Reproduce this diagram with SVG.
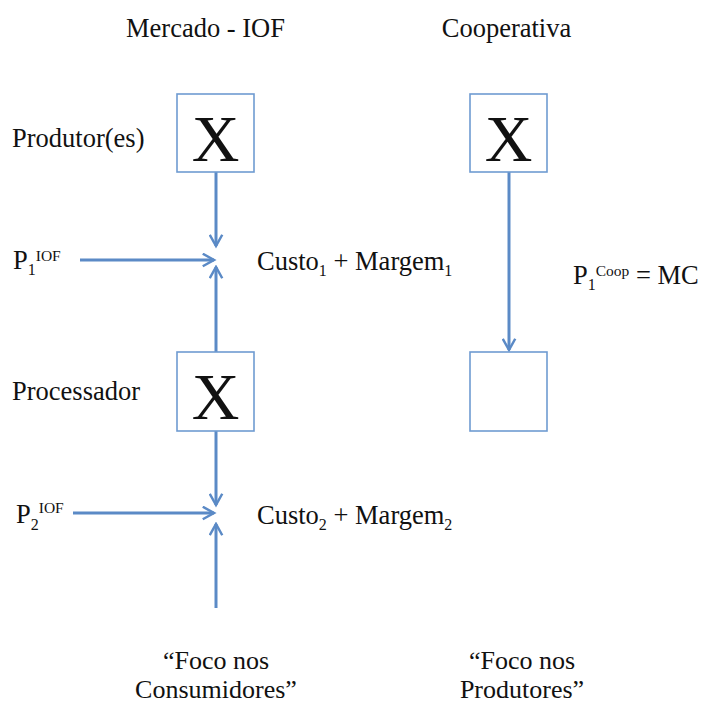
<svg xmlns="http://www.w3.org/2000/svg" width="709" height="704" viewBox="0 0 709 704">
  <style>
    text { font-family: "Liberation Serif", "Times New Roman", serif; fill: #111; }
    .t { font-size: 26.5px; }
    .foot { font-size: 26px; }
    .sub { font-size: 16px; }
    .sup { font-size: 15.5px; }
    .big { font-size: 66px; }
    .box { fill: #fff; stroke: #6f9bd1; stroke-width: 1.6; }
    .arr { stroke: #5b8ac6; stroke-width: 3; fill: none; marker-end: url(#ah); }
  </style>
  <defs>
    <marker id="ah" viewBox="0 0 12 12" refX="10" refY="6" markerWidth="5" markerHeight="5" orient="auto" markerUnits="strokeWidth">
      <path d="M1,1 L10,6 L1,11" fill="none" stroke="#5b8ac6" stroke-width="2"/>
    </marker>
  </defs>
  <rect width="709" height="704" fill="#fff"/>

  <g id="titles">
    <text class="t" x="205.5" y="37" text-anchor="middle">Mercado - IOF</text>
    <text class="t" x="506.5" y="37" text-anchor="middle">Cooperativa</text>
  </g>

  <g id="connectors">
    <line class="arr" x1="216" y1="172" x2="216" y2="246"/>
    <line class="arr" x1="80" y1="260" x2="214" y2="260"/>
    <line class="arr" x1="216" y1="352" x2="216" y2="267"/>
    <line class="arr" x1="216" y1="431" x2="216" y2="505"/>
    <line class="arr" x1="73" y1="513" x2="214" y2="513"/>
    <line class="arr" x1="216" y1="608" x2="216" y2="524"/>
    <line class="arr" x1="509" y1="172" x2="509" y2="350"/>
  </g>

  <g id="produtores">
    <text class="t" x="12" y="147">Produtor(es)</text>
    <rect class="box" x="177" y="94" width="77" height="78"/>
    <text class="big" x="215.5" y="161" text-anchor="middle">X</text>
  </g>

  <g id="processador">
    <text class="t" x="12" y="400">Processador</text>
    <rect class="box" x="177" y="352" width="77" height="79"/>
    <text class="big" x="215.5" y="419" text-anchor="middle">X</text>
  </g>

  <g id="coop-produtores">
    <rect class="box" x="470" y="94" width="77" height="78"/>
    <text class="big" x="508.5" y="161" text-anchor="middle">X</text>
  </g>

  <g id="coop-processador">
    <rect class="box" x="470" y="352" width="77" height="79"/>
  </g>

  <g id="p1-iof">
    <text class="t" x="13" y="269">P<tspan class="sub" dy="6">1</tspan><tspan class="sup" dy="-14">IOF</tspan></text>
  </g>
  <g id="custo1">
    <text class="t" x="257" y="270">Custo<tspan class="sub" dy="6">1</tspan><tspan dy="-6"> + Margem</tspan><tspan class="sub" dy="6">1</tspan></text>
  </g>
  <g id="p1-coop">
    <text class="t" x="573" y="284">P<tspan class="sub" dy="6">1</tspan><tspan class="sup" dy="-14">Coop</tspan><tspan dy="8"> = MC</tspan></text>
  </g>
  <g id="p2-iof">
    <text class="t" x="16" y="523">P<tspan class="sub" dy="7">2</tspan><tspan class="sup" dy="-17">IOF</tspan></text>
  </g>
  <g id="custo2">
    <text class="t" x="257" y="524">Custo<tspan class="sub" dy="6">2</tspan><tspan dy="-6"> + Margem</tspan><tspan class="sub" dy="6">2</tspan></text>
  </g>

  <g id="foco-consumidores">
    <text class="foot" x="216" y="669" text-anchor="middle">“Foco nos</text>
    <text class="foot" x="216" y="698" text-anchor="middle">Consumidores”</text>
  </g>
  <g id="foco-produtores">
    <text class="foot" x="522" y="669" text-anchor="middle">“Foco nos</text>
    <text class="foot" x="522" y="698" text-anchor="middle">Produtores”</text>
  </g>
</svg>
